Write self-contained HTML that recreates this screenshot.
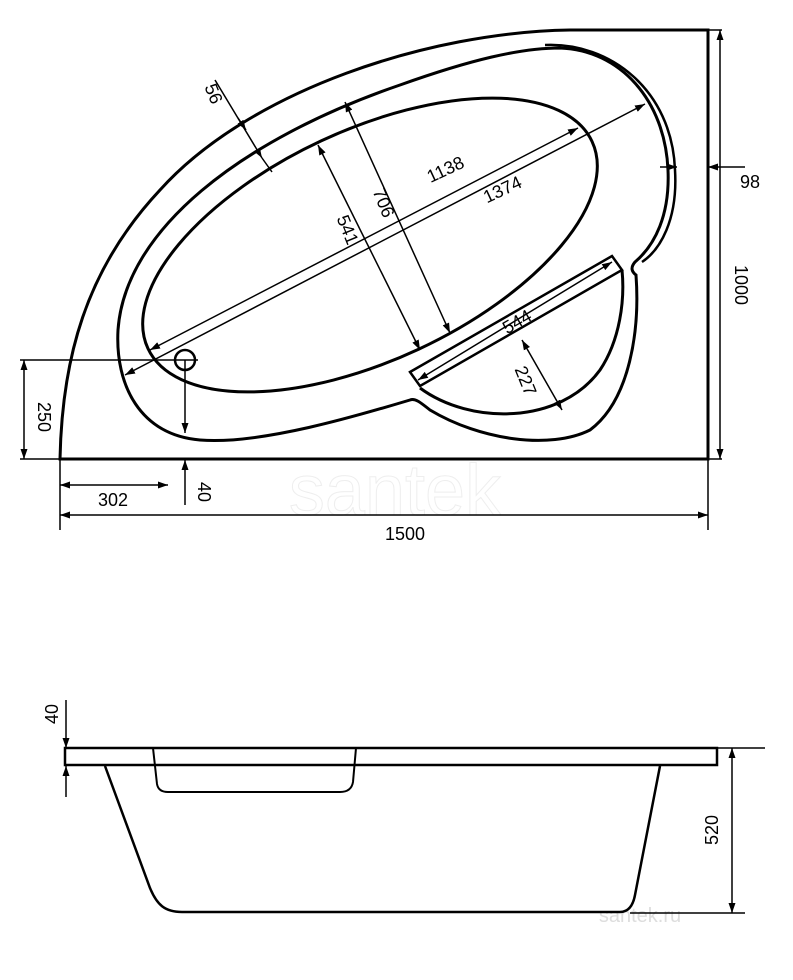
<!DOCTYPE html>
<html><head><style>
html,body{margin:0;padding:0;background:#fff;}
svg{display:block;font-family:"Liberation Sans",sans-serif;}
text{font-size:18px;fill:#000;}
</style></head><body>
<svg width="793" height="980" viewBox="0 0 793 980" xmlns="http://www.w3.org/2000/svg">
<defs>
<marker id="a" viewBox="0 0 10 10" refX="10" refY="5" markerWidth="10" markerHeight="10" orient="auto-start-reverse" markerUnits="userSpaceOnUse"><path d="M0,1.5 L10,5 L0,8.5 z" fill="#000"/></marker>
</defs>
<text x="395" y="515" text-anchor="middle" style="font-size:72px;fill:none;stroke:#eee;stroke-width:1">santek</text>
<text x="640" y="922" text-anchor="middle" style="font-size:20px;fill:#ddd">santek.ru</text>
<g fill="none" stroke="#000" stroke-width="3">
<path d="M60,459 L708,459 L708,30 L570,30 C430,32 250,90 160,190 C85,270 62,360 60,459 Z"/>
<path d="M410,400 C360,415 260,445 200,440 C140,435 115,385 118,330 C125,230 240,140 400,85 C470,60 520,48 560,48 C620,50 665,100 668,170 C670,215 655,245 635,262 C630,268 632,272 636,275 C640,330 630,400 590,430 C550,450 480,440 430,410 C420,402 415,398 410,400 Z"/>
<path d="M545,45 C610,42 672,90 675,170 C678,220 660,250 642,262" stroke-width="2.5"/>
<ellipse cx="370" cy="245" rx="245" ry="115" transform="rotate(-25 370 245)" stroke-width="3"/>
<path d="M410,372 L612,256 L622,270 L420,386 Z" stroke-width="2.5"/>
<path d="M420,388 C470,425 560,425 600,370 C620,340 625,300 622,270" stroke-width="3"/>
<circle cx="185" cy="360" r="10" stroke-width="2.5"/>
</g>
<g stroke="#000" stroke-width="1.5" fill="none">
<line x1="720" y1="30" x2="720" y2="459" marker-start="url(#a)" marker-end="url(#a)"/>
<line x1="708" y1="30" x2="722" y2="30"/><line x1="708" y1="459" x2="722" y2="459"/>
<line x1="60" y1="459" x2="60" y2="530"/><line x1="708" y1="459" x2="708" y2="530"/>
<line x1="60" y1="515" x2="708" y2="515" marker-start="url(#a)" marker-end="url(#a)"/>
<line x1="60" y1="485" x2="168" y2="485" marker-start="url(#a)" marker-end="url(#a)"/>
<line x1="185" y1="360" x2="185" y2="433" marker-end="url(#a)"/>
<line x1="185" y1="505" x2="185" y2="460" marker-end="url(#a)"/>
<line x1="20" y1="360" x2="198" y2="360"/><line x1="20" y1="459" x2="60" y2="459"/>
<line x1="24" y1="360" x2="24" y2="459" marker-start="url(#a)" marker-end="url(#a)"/>
<line x1="215" y1="80" x2="262" y2="158" marker-end="url(#a)"/>
<line x1="262" y1="158" x2="272" y2="172"/>
<line x1="238" y1="118" x2="246" y2="130" marker-end="url(#a)"/>
<line x1="345" y1="102" x2="450" y2="333" marker-start="url(#a)" marker-end="url(#a)"/>
<line x1="318" y1="145" x2="420" y2="350" marker-start="url(#a)" marker-end="url(#a)"/>
<line x1="150" y1="350" x2="578" y2="128" marker-start="url(#a)" marker-end="url(#a)"/>
<line x1="125" y1="375" x2="645" y2="104" marker-start="url(#a)" marker-end="url(#a)"/>
<line x1="418" y1="380" x2="612" y2="262" marker-start="url(#a)" marker-end="url(#a)"/>
<line x1="522" y1="340" x2="562" y2="410" marker-start="url(#a)" marker-end="url(#a)"/>
<line x1="660" y1="167" x2="677" y2="167" marker-end="url(#a)"/>
<line x1="745" y1="167" x2="708" y2="167" marker-end="url(#a)"/>
</g>
<text x="735" y="285" text-anchor="middle" transform="rotate(90 735 285)">1000</text>
<text x="740" y="188">98</text>
<text x="385" y="540">1500</text>
<text x="113" y="506" text-anchor="middle">302</text>
<text x="198" y="492" text-anchor="middle" transform="rotate(90 198 492)">40</text>
<text x="38" y="417" text-anchor="middle" transform="rotate(90 38 417)">250</text>
<text x="208" y="96" text-anchor="middle" transform="rotate(68 208 96)">56</text>
<text x="378" y="205" text-anchor="middle" transform="rotate(68 378 205)">706</text>
<text x="342" y="232" text-anchor="middle" transform="rotate(68 342 232)">541</text>
<text x="448" y="175" text-anchor="middle" transform="rotate(-25 448 175)">1138</text>
<text x="505" y="195" text-anchor="middle" transform="rotate(-25 505 195)">1374</text>
<text x="520" y="327" text-anchor="middle" transform="rotate(-30 520 327)">544</text>
<text x="520" y="383" text-anchor="middle" transform="rotate(68 520 383)">227</text>
<g fill="none" stroke="#000" stroke-width="3">
<rect x="65" y="748" width="652" height="17" stroke-width="2.5"/>
<path d="M153,748 L157,784 C158,790 162,792 168,792 L340,792 C348,792 352,788 353,782 L356,748" stroke-width="2"/>
<path d="M105,766 L150,888 C157,905 165,912 182,912 L620,912 C628,912 633,906 635,895 L660,766" stroke-width="2.5"/>
</g>
<g stroke="#000" stroke-width="1.5" fill="none">
<line x1="717" y1="748" x2="765" y2="748"/>
<line x1="630" y1="913" x2="745" y2="913"/>
<line x1="732" y1="748" x2="732" y2="913" marker-start="url(#a)" marker-end="url(#a)"/>
<line x1="66" y1="700" x2="66" y2="748" marker-end="url(#a)"/>
<line x1="66" y1="797" x2="66" y2="766" marker-end="url(#a)"/>
</g>
<text x="58" y="714" text-anchor="middle" transform="rotate(-90 58 714)">40</text>
<text x="718" y="830" text-anchor="middle" transform="rotate(-90 718 830)">520</text>
</svg>
</body></html>
